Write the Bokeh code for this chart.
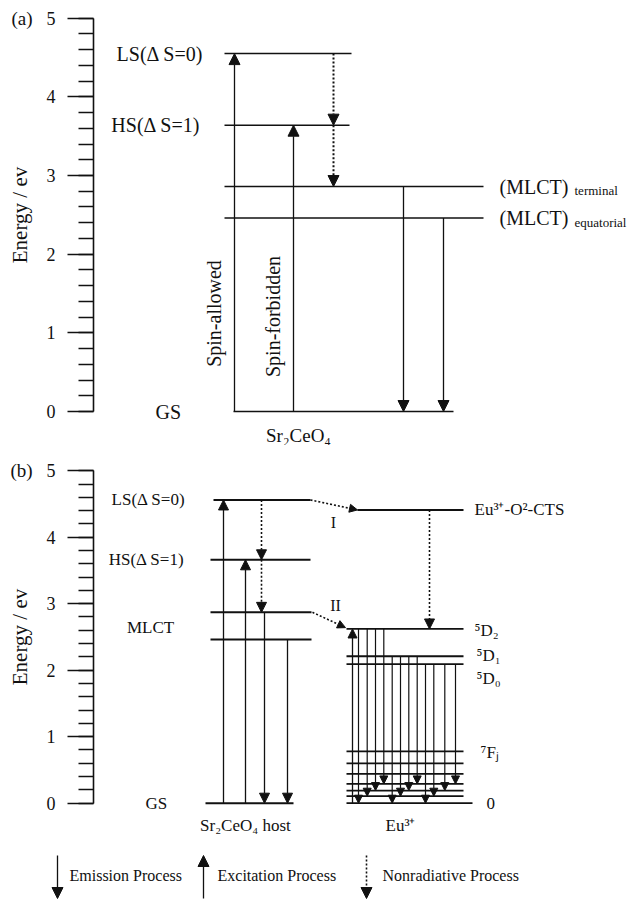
import math
from bokeh.plotting import figure
from bokeh.models import (Range1d, LinearAxis, SingleIntervalTicker, Arrow,
                          NormalHead, ColumnDataSource)
from bokeh.layouts import column
from bokeh.core.properties import value
from bokeh.embed import file_html
from bokeh.resources import INLINE

FONT = "Liberation Serif"
INK = "#111111"

# ------------------------------------------------------------------ data
energy_ticks = [0, 1, 2, 3, 4, 5]

# panel (a): Sr2CeO4 energy levels (eV)
a_levels = ["GS", "MLCT equatorial", "MLCT terminal", "HS", "LS"]
a_energy = [0.0, 2.46, 2.86, 3.64, 4.55]
a_excitation = [(0, 4), (0, 3)]      # spin-allowed, spin-forbidden
a_nonradiative = [(4, 3), (3, 2)]
a_emission = [(2, 0), (1, 0)]

# panel (b): Sr2CeO4 host levels (eV)
b_levels = ["GS", "MLCT low", "MLCT", "HS", "LS"]
b_energy = [0.0, 2.46, 2.87, 3.66, 4.56]
b_excitation = [(0, 4), (0, 3)]
b_nonradiative = [(4, 3), (3, 2)]
b_emission = [(2, 0), (1, 0)]

# Eu3+ levels (eV)
eu_cts_energy = 4.41
eu_d_levels = ["5D0", "5D1", "5D2"]
eu_d_energy = [2.09, 2.21, 2.62]
eu_f_levels = ["7F0", "7F1", "7F2", "7F3", "7F4", "7F5", "7F6"]
eu_f_energy = [0.0, 0.105, 0.19, 0.29, 0.44, 0.60, 0.78]
# emission 5DJ -> 7FJ (indices into eu_d_energy, eu_f_energy)
eu_emission = [(2, 0), (2, 1), (2, 2), (2, 3),
               (1, 0), (1, 1), (1, 2), (1, 3),
               (0, 0), (0, 1), (0, 2), (0, 3)]

legend_items = ["Emission Process", "Excitation Process", "Nonradiative Process"]

# ------------------------------------------------------------------ layout (pixels)
A_H, B_H, L_H, W = 445, 395, 60, 635
AX_X = 93

a_line_x0 = [233, 224, 224, 224, 224]
a_line_x1 = [453, 483, 483, 349, 351]
a_exc_x = [234, 293]
a_nonrad_x = [333, 333]
a_em_x = [403, 443]

b_line_x0 = [205, 210, 210, 210, 213]
b_line_x1 = [293, 311, 311, 310, 310]
b_exc_x = [223, 245]
b_nonrad_x = [261, 261]
b_em_x = [264, 287]
eu_x0, eu_x1, eu_f0_x1 = 346, 463, 472
cts_x0 = 357
eu_exc_x = 352
cts_nonrad_x = 429
eu_em_x = [358, 366.7, 375, 383.3, 391.7, 400, 408.3, 416.7, 425, 433.3, 444.3, 455]


def blank_fig(height, xr, yr):
    p = figure(width=W, height=height, x_range=xr, y_range=yr,
               output_backend="svg", toolbar_location=None,
               x_axis_location=None, y_axis_location=None, min_border=0)
    p.outline_line_color = None
    p.background_fill_color = "white"
    p.border_fill_color = "white"
    p.xgrid.visible = False
    p.ygrid.visible = False
    p.grid.visible = False
    return p


def energy_fig(height, yr):
    p = blank_fig(height, Range1d(0, W), yr)
    ax = LinearAxis(fixed_location=AX_X,
                    bounds=(energy_ticks[0], energy_ticks[-1]),
                    ticker=SingleIntervalTicker(interval=1, num_minor_ticks=5),
                    axis_label="Energy / ev",
                    major_label_text_font=FONT,
                    major_label_text_font_size="18px",
                    axis_label_text_font=FONT,
                    axis_label_text_font_size="21px",
                    axis_label_text_font_style="normal")
    ax.axis_line_width = 1.6
    ax.axis_line_color = INK
    ax.major_tick_out = 26
    ax.major_tick_in = 0
    ax.minor_tick_out = 15
    ax.minor_tick_in = 0
    ax.major_tick_line_width = 1.6
    ax.minor_tick_line_width = 1.6
    ax.major_tick_line_color = INK
    ax.minor_tick_line_color = INK
    ax.major_label_text_color = INK
    ax.major_label_standoff = 12
    ax.axis_label_text_color = INK
    ax.axis_label_standoff = 12
    p.add_layout(ax, "left")
    return p


def txt(p, xs, ys, texts, size, align="left", baseline="middle", angle=0.0, y_offset=0):
    p.text(x=xs, y=ys, text=texts, text_font=value(FONT), text_font_size=size,
           text_align=align, text_baseline=baseline, angle=angle,
           y_offset=y_offset, text_color=INK)


def arrows(p, x0, y0, x1, y1, size, dash="solid", lw=1.3):
    src = ColumnDataSource(dict(x0=x0, y0=y0, x1=x1, y1=y1))
    p.add_layout(Arrow(end=NormalHead(size=size, fill_color=INK, line_color=INK, line_width=1),
                       x_start="x0", y_start="y0", x_end="x1", y_end="y1",
                       source=src, line_color=INK, line_width=lw, line_dash=dash))


# ------------------------------------------------------------------ panel (a)
pa = energy_fig(A_H, Range1d(-0.432, 5.225))
pa.segment(x0=a_line_x0, y0=a_energy, x1=a_line_x1, y1=a_energy, line_color=INK, line_width=1.5)
arrows(pa, a_exc_x, [a_energy[i] for i, j in a_excitation],
       a_exc_x, [a_energy[j] for i, j in a_excitation], 11)
arrows(pa, a_em_x, [a_energy[i] for i, j in a_emission],
       a_em_x, [a_energy[j] for i, j in a_emission], 11)
arrows(pa, a_nonrad_x, [a_energy[i] for i, j in a_nonradiative],
       a_nonrad_x, [a_energy[j] for i, j in a_nonradiative], 11, dash="2 2", lw=2)

txt(pa, [11], [energy_ticks[-1]], ["(a)"], "19px")
txt(pa, [203, 200], [a_energy[4], a_energy[3]], ["LS(Δ S=0)", "HS(Δ S=1)"], "20px", align="right")
txt(pa, [155], [a_energy[0]], ["GS"], "20px")
txt(pa, [499, 499], [a_energy[2], a_energy[1]], ["(MLCT)", "(MLCT)"], "20px")
txt(pa, [574, 574], [a_energy[2], a_energy[1]], ["terminal", "equatorial"], "13px", y_offset=4)
txt(pa, [213, 272], [1.246, 1.208], ["Spin-allowed", "Spin-forbidden"], "20px",
    align="center", angle=math.pi / 2)
txt(pa, [298], [-0.305], ["Sr₂CeO₄"], "19px", align="center")

# ------------------------------------------------------------------ panel (b)
pb = energy_fig(B_H, Range1d(-0.561, 5.379))
pb.segment(x0=b_line_x0, y0=b_energy, x1=b_line_x1, y1=b_energy, line_color=INK, line_width=2)
pb.segment(x0=[cts_x0], y0=[eu_cts_energy], x1=[eu_x1], y1=[eu_cts_energy], line_color=INK, line_width=2)
pb.segment(x0=[eu_x0] * len(eu_d_energy), y0=eu_d_energy, x1=[eu_x1] * len(eu_d_energy),
           y1=eu_d_energy, line_color=INK, line_width=1.8)
pb.segment(x0=[eu_x0] * len(eu_f_energy), y0=eu_f_energy,
           x1=[eu_f0_x1] + [eu_x1] * (len(eu_f_energy) - 1),
           y1=eu_f_energy, line_color=INK, line_width=1.8)

arrows(pb, b_exc_x, [b_energy[i] for i, j in b_excitation],
       b_exc_x, [b_energy[j] for i, j in b_excitation], 10)
arrows(pb, b_em_x, [b_energy[i] for i, j in b_emission],
       b_em_x, [b_energy[j] for i, j in b_emission], 10)
arrows(pb, b_nonrad_x, [b_energy[i] for i, j in b_nonradiative],
       b_nonrad_x, [b_energy[j] for i, j in b_nonradiative], 10, dash="2 2", lw=1.6)
# energy transfer host -> Eu (I, II)
arrows(pb, [310, 312], [b_energy[4], b_energy[2]],
       [cts_x0, 345], [eu_cts_energy, eu_d_energy[2] + 0.02], 8, dash="2 2", lw=1.6)
# CTS -> 5D2 nonradiative
arrows(pb, [cts_nonrad_x], [eu_cts_energy], [cts_nonrad_x], [eu_d_energy[2]], 10,
       dash="2 2", lw=1.6)
# Eu excitation
arrows(pb, [eu_exc_x], [eu_f_energy[0]], [eu_exc_x], [eu_d_energy[2]], 9)
# Eu emission
arrows(pb, eu_em_x, [eu_d_energy[d] for d, f in eu_emission],
       eu_em_x, [eu_f_energy[f] for d, f in eu_emission], 8, lw=1.2)

txt(pb, [10], [energy_ticks[-1]], ["(b)"], "19px")
txt(pb, [185, 184], [b_energy[4], b_energy[3]], ["LS(Δ S=0)", "HS(Δ S=1)"], "17px", align="right")
txt(pb, [150], [2.64], ["MLCT"], "17px", align="center")
txt(pb, [145], [b_energy[0]], ["GS"], "17px")
txt(pb, [247, 400], [-0.335, -0.335], ["Sr₂CeO₄  host", "Eu³⁺"], "17px", align="center")
txt(pb, [333, 335], [4.22, 2.97], ["I", "II"], "16px", align="center")
txt(pb, [474], [eu_cts_energy], ["Eu³⁺-O²-CTS"], "17px")
txt(pb, [474, 476, 476], [2.60, 2.22, 1.87], ["⁵D₂", "⁵D₁", "⁵D₀"], "17px")
txt(pb, [480], [0.76], ["⁷Fⱼ"], "17px")
txt(pb, [486], [eu_f_energy[0]], ["0"], "17px")

# ------------------------------------------------------------------ legend strip
pl = blank_fig(L_H, Range1d(0, W), Range1d(L_H, 0))
arrows(pl, [57], [15], [57], [58], 11)
arrows(pl, [203], [58], [203], [15], 11)
arrows(pl, [366], [15], [366], [58], 11, dash="2 2", lw=1.6)
txt(pl, [69, 217, 382], [35, 35, 35], legend_items, "16px")

layout = column(pa, pb, pl, spacing=0)
open("out.html", "w").write(file_html(layout, INLINE))
